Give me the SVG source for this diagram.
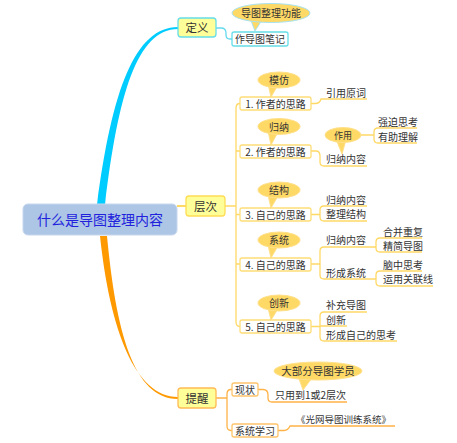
<svg xmlns="http://www.w3.org/2000/svg" width="457" height="443" viewBox="0 0 457 443">
<style>
text{font-family:"Noto Sans CJK SC","Noto Sans",sans-serif;fill:#333}
.t10{font-size:10px}
.mid{text-anchor:middle}
.yl{fill:none;stroke:#ffd966;stroke-width:1.3}
.ol{fill:none;stroke:#ffb347;stroke-width:1.3}
.cl{fill:none;stroke:#66d9ee;stroke-width:1.3}
.box{fill:#fff;stroke:#ffdd77;stroke-width:1.3}
.obox{fill:#fff;stroke:#ffc46b;stroke-width:1.3}
.call{fill:#ffd966;stroke:#ffe08a;stroke-width:1}
</style>
<rect width="457" height="443" fill="#fff"/>
<g id="connectors">
<path d="M97,205 C112,90 135,27 178,27 L178,29 C137,29 118,95 105,205 Z" fill="#00ccff"/>
<path d="M100,236 C110,330 135,397 178,397 L178,399 C133,399 116,330 107,236 Z" fill="#ff9900"/>
<path d="M177,206 H186" fill="none" stroke="#ffcc33" stroke-width="1.5"/>
<path class="cl" d="M216,28 H221 Q226,28 226,33 V35 Q226,39 230,39 H232"/>
<path class="yl" d="M225,206 H236 M240,103.5 Q236,103.5 236,108 V322 Q236,326.5 240,326.5 M236,151 H240 M236,214.5 H240 M236,264 H240"/>
<path class="yl" d="M311,103.5 H315 Q320,103.5 321,99 H367"/>
<path class="yl" d="M311,151 H316 Q320,151 320,156 V162 Q320,166 324,166 H367"/>
<path class="yl" d="M361,135 H374 M374,135 V132 Q374,128 378,128 H417 M374,135 V139 Q374,143 378,143 H417"/>
<path class="yl" d="M311,214.5 H320 M320,214.5 V210 Q320,206 324,206 H367 M320,214.5 V217 Q320,221 324,221 H367"/>
<path class="yl" d="M311,264 H320 M320,264 V251 Q320,247 324,247 H367 M320,264 V275 Q320,279 324,279 H367"/>
<path class="yl" d="M367,247 H376 M376,247 V242 Q376,238 380,238 H422 M376,247 V248 Q376,252 380,252 H422"/>
<path class="yl" d="M367,279 H376 M376,279 V275 Q376,271 380,271 H422 M376,279 V282 Q376,286 380,286 H433"/>
<path class="yl" d="M311,326.5 H320 M320,326.5 V316 Q320,312 324,312 H367 M320,326 H347 M320,326.5 V337 Q320,341 324,341 H397"/>
<path class="ol" d="M216,398 H227 M232,389.5 H231 Q227,389.5 227,394 V426 Q227,430.5 231,430.5 H232"/>
<path class="ol" d="M258,389.5 H263 Q268,389.5 268,395 V398 Q268,402 272,402 H347"/>
<path class="ol" d="M278,430.5 H284 Q288,430.5 290,426 H395"/>
</g>
<g id="center">
<rect x="23" y="204" width="154" height="31" rx="5" fill="#adc6e6" stroke="#c6d6ec"/>
<text x="100" y="225" class="mid" style="font-size:14px;fill:#2222dd">什么是导图整理内容</text>
</g>
<g id="dingyi">
<rect x="178" y="18" width="38" height="19" rx="3" fill="#ffff99" stroke="#66dde8" stroke-width="1.3"/>
<text x="197" y="32" class="mid" style="font-size:11.5px">定义</text>
</g>
<g id="callout-gongneng">
<path d="M250,18 L262,20 L255,31 Z" fill="#ffd966" stroke="#a8e2f0"/>
<ellipse cx="271" cy="13" rx="39" ry="9.5" fill="#ffd966" stroke="#a8e2f0"/>
<text x="271" y="17" class="t10 mid">导图整理功能</text>
</g>
<g id="biji">
<rect x="232" y="32" width="56" height="14" rx="2" fill="#fff" stroke="#66dde8" stroke-width="1.3"/>
<text x="260" y="43" class="t10 mid">作导图笔记</text>
</g>
<g id="cengci">
<rect x="186" y="196" width="39" height="20" rx="3" fill="#ffff99" stroke="#ffdd55" stroke-width="1.3"/>
<text x="205.5" y="210.5" class="mid" style="font-size:11.5px">层次</text>
</g>
<g id="tixing">
<rect x="178" y="388" width="38" height="20" rx="3" fill="#ffff99" stroke="#ffbb55" stroke-width="1.3"/>
<text x="197" y="402.5" class="mid" style="font-size:11.5px">提醒</text>
</g>
<g id="c1">
<path class="call" d="M268,84 L278,85 L271,97 Z"/>
<ellipse class="call" cx="279" cy="80" rx="21" ry="8"/>
<text x="279" y="84" class="t10 mid">模仿</text>
</g>
<g id="b1">
<rect class="box" x="240" y="97" width="71" height="13" rx="2"/>
<text x="275.5" y="107.5" class="t10 mid">1. 作者的思路</text>
</g>
<g id="c2">
<path class="call" d="M268,131 L278,132 L271,145 Z"/>
<ellipse class="call" cx="279" cy="126.5" rx="21" ry="8"/>
<text x="279" y="130.5" class="t10 mid">归纳</text>
</g>
<g id="b2">
<rect class="box" x="240" y="145" width="71" height="13" rx="2"/>
<text x="275.5" y="155.5" class="t10 mid">2. 作者的思路</text>
</g>
<g id="c3">
<path class="call" d="M268,195 L278,196 L271,208 Z"/>
<ellipse class="call" cx="279" cy="190" rx="21" ry="8"/>
<text x="279" y="194" class="t10 mid">结构</text>
</g>
<g id="b3">
<rect class="box" x="240" y="208" width="71" height="13" rx="2"/>
<text x="275.5" y="218.5" class="t10 mid">3. 自己的思路</text>
</g>
<g id="c4">
<path class="call" d="M268,245 L278,246 L271,258 Z"/>
<ellipse class="call" cx="279" cy="240" rx="21" ry="8"/>
<text x="279" y="244" class="t10 mid">系统</text>
</g>
<g id="b4">
<rect class="box" x="240" y="258" width="71" height="13" rx="2"/>
<text x="275.5" y="268.5" class="t10 mid">4. 自己的思路</text>
</g>
<g id="c5">
<path class="call" d="M268,308 L278,309 L271,320 Z"/>
<ellipse class="call" cx="279" cy="303" rx="21" ry="8"/>
<text x="279" y="307" class="t10 mid">创新</text>
</g>
<g id="b5">
<rect class="box" x="240" y="320" width="71" height="13" rx="2"/>
<text x="275.5" y="330.5" class="t10 mid">5. 自己的思路</text>
</g>
<g id="leaves">
<text x="326" y="97" class="t10">引用原词</text>
<text x="326" y="163" class="t10">归纳内容</text>
<text x="378" y="126" class="t10">强迫思考</text>
<text x="378" y="141" class="t10">有助理解</text>
<text x="326" y="204" class="t10">归纳内容</text>
<text x="326" y="218" class="t10">整理结构</text>
<text x="326" y="244" class="t10">归纳内容</text>
<text x="326" y="277" class="t10">形成系统</text>
<text x="383" y="236" class="t10">合并重复</text>
<text x="383" y="250" class="t10">精简导图</text>
<text x="383" y="268.5" class="t10">脑中思考</text>
<text x="383" y="283" class="t10">运用关联线</text>
<text x="326" y="309" class="t10">补充导图</text>
<text x="326" y="324" class="t10">创新</text>
<text x="326" y="338.5" class="t10">形成自己的思考</text>
<text x="275" y="399" class="t10">只用到1或2层次</text>
<text x="296" y="423" style="font-size:9.5px">《光网导图训练系统》</text>
</g>
<g id="c-zuoyong">
<path class="call" d="M336,139 L346,140 L342,154 Z"/>
<ellipse class="call" cx="343" cy="135" rx="18" ry="7.5"/>
<text x="343" y="138.5" class="mid" style="font-size:9px">作用</text>
</g>
<g id="xianzhuang">
<rect class="obox" x="232" y="383" width="26" height="13" rx="2"/>
<text x="245" y="393.5" class="t10 mid">现状</text>
</g>
<g id="c-xueyuan">
<path class="call" d="M298,376 L312,378 L303,390 Z"/>
<ellipse class="call" cx="318" cy="371" rx="44" ry="9"/>
<text x="318" y="375" class="mid" style="font-size:10.5px">大部分导图学员</text>
</g>
<g id="xitong">
<rect class="obox" x="232" y="424" width="46" height="13" rx="2"/>
<text x="255" y="434.5" class="t10 mid">系统学习</text>
</g>
</svg>
